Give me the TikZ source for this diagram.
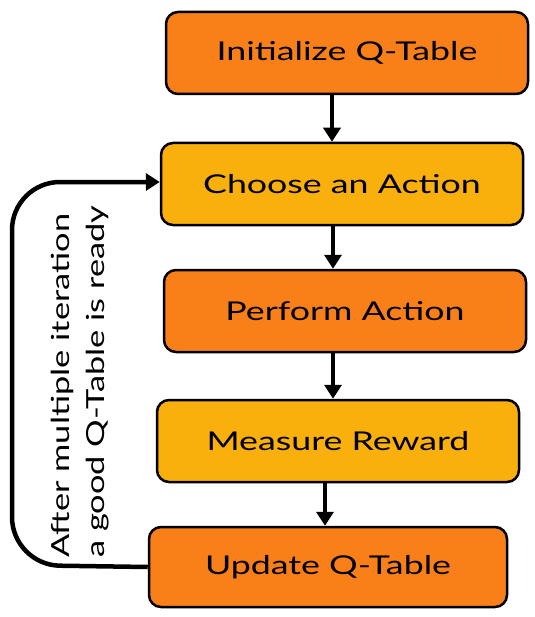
\documentclass[tikz,border=0pt]{standalone}
\usepackage{fontspec}
\setmainfont{Lato}[FakeStretch=1.38]
\usetikzlibrary{arrows.meta}
\definecolor{orng}{HTML}{F98019}
\definecolor{yell}{HTML}{F9AF0C}
\tikzset{
  box/.style={draw=black, line width=2.5bp, rounded corners=12bp, minimum width=362bp, minimum height=82bp, font=\fontsize{26}{30}\selectfont, text=black},
  obox/.style={box, fill=orng},
  ybox/.style={box, fill=yell},
  arr/.style={line width=4.5bp, -{Triangle[length=14bp,width=17bp]}},
}
\begin{document}
\begin{tikzpicture}[x=1bp,y=-1bp]
\useasboundingbox (0,0) rectangle (535,617);
\node[obox] (b1) at (347,53) {Initialize Q-Table};
\node[ybox] (b2) at (342,184) {Choose an Action};
\node[obox] (b3) at (345,311) {Perform Action};
\node[ybox] (b4) at (338,441) {Measure Reward};
\node[obox, minimum width=358bp, minimum height=80bp] (b5) at (328,567) {Update Q-Table};
\draw[arr] (332,0 |- b1.south) -- (332,0 |- b2.north);
\draw[arr] (333,0 |- b2.south) -- (333,0 |- b3.north);
\draw[arr] (333,0 |- b3.south) -- (333,0 |- b4.north);
\draw[arr] (325,0 |- b4.south) -- (325,0 |- b5.north);
\coordinate (c1) at (12,565);
\coordinate (c2) at (12,182);
\draw[arr, rounded corners=48bp] (b5.west) -- (c1) -- (c2) -- (b2.west |- c2);
\node[rotate=90, anchor=west, align=left, font=\fontsize{25}{35}\selectfont, inner sep=0pt] (lbl) at (80,558) {After multiple iteration\\a good Q-Table is ready};
\end{tikzpicture}
\end{document}
